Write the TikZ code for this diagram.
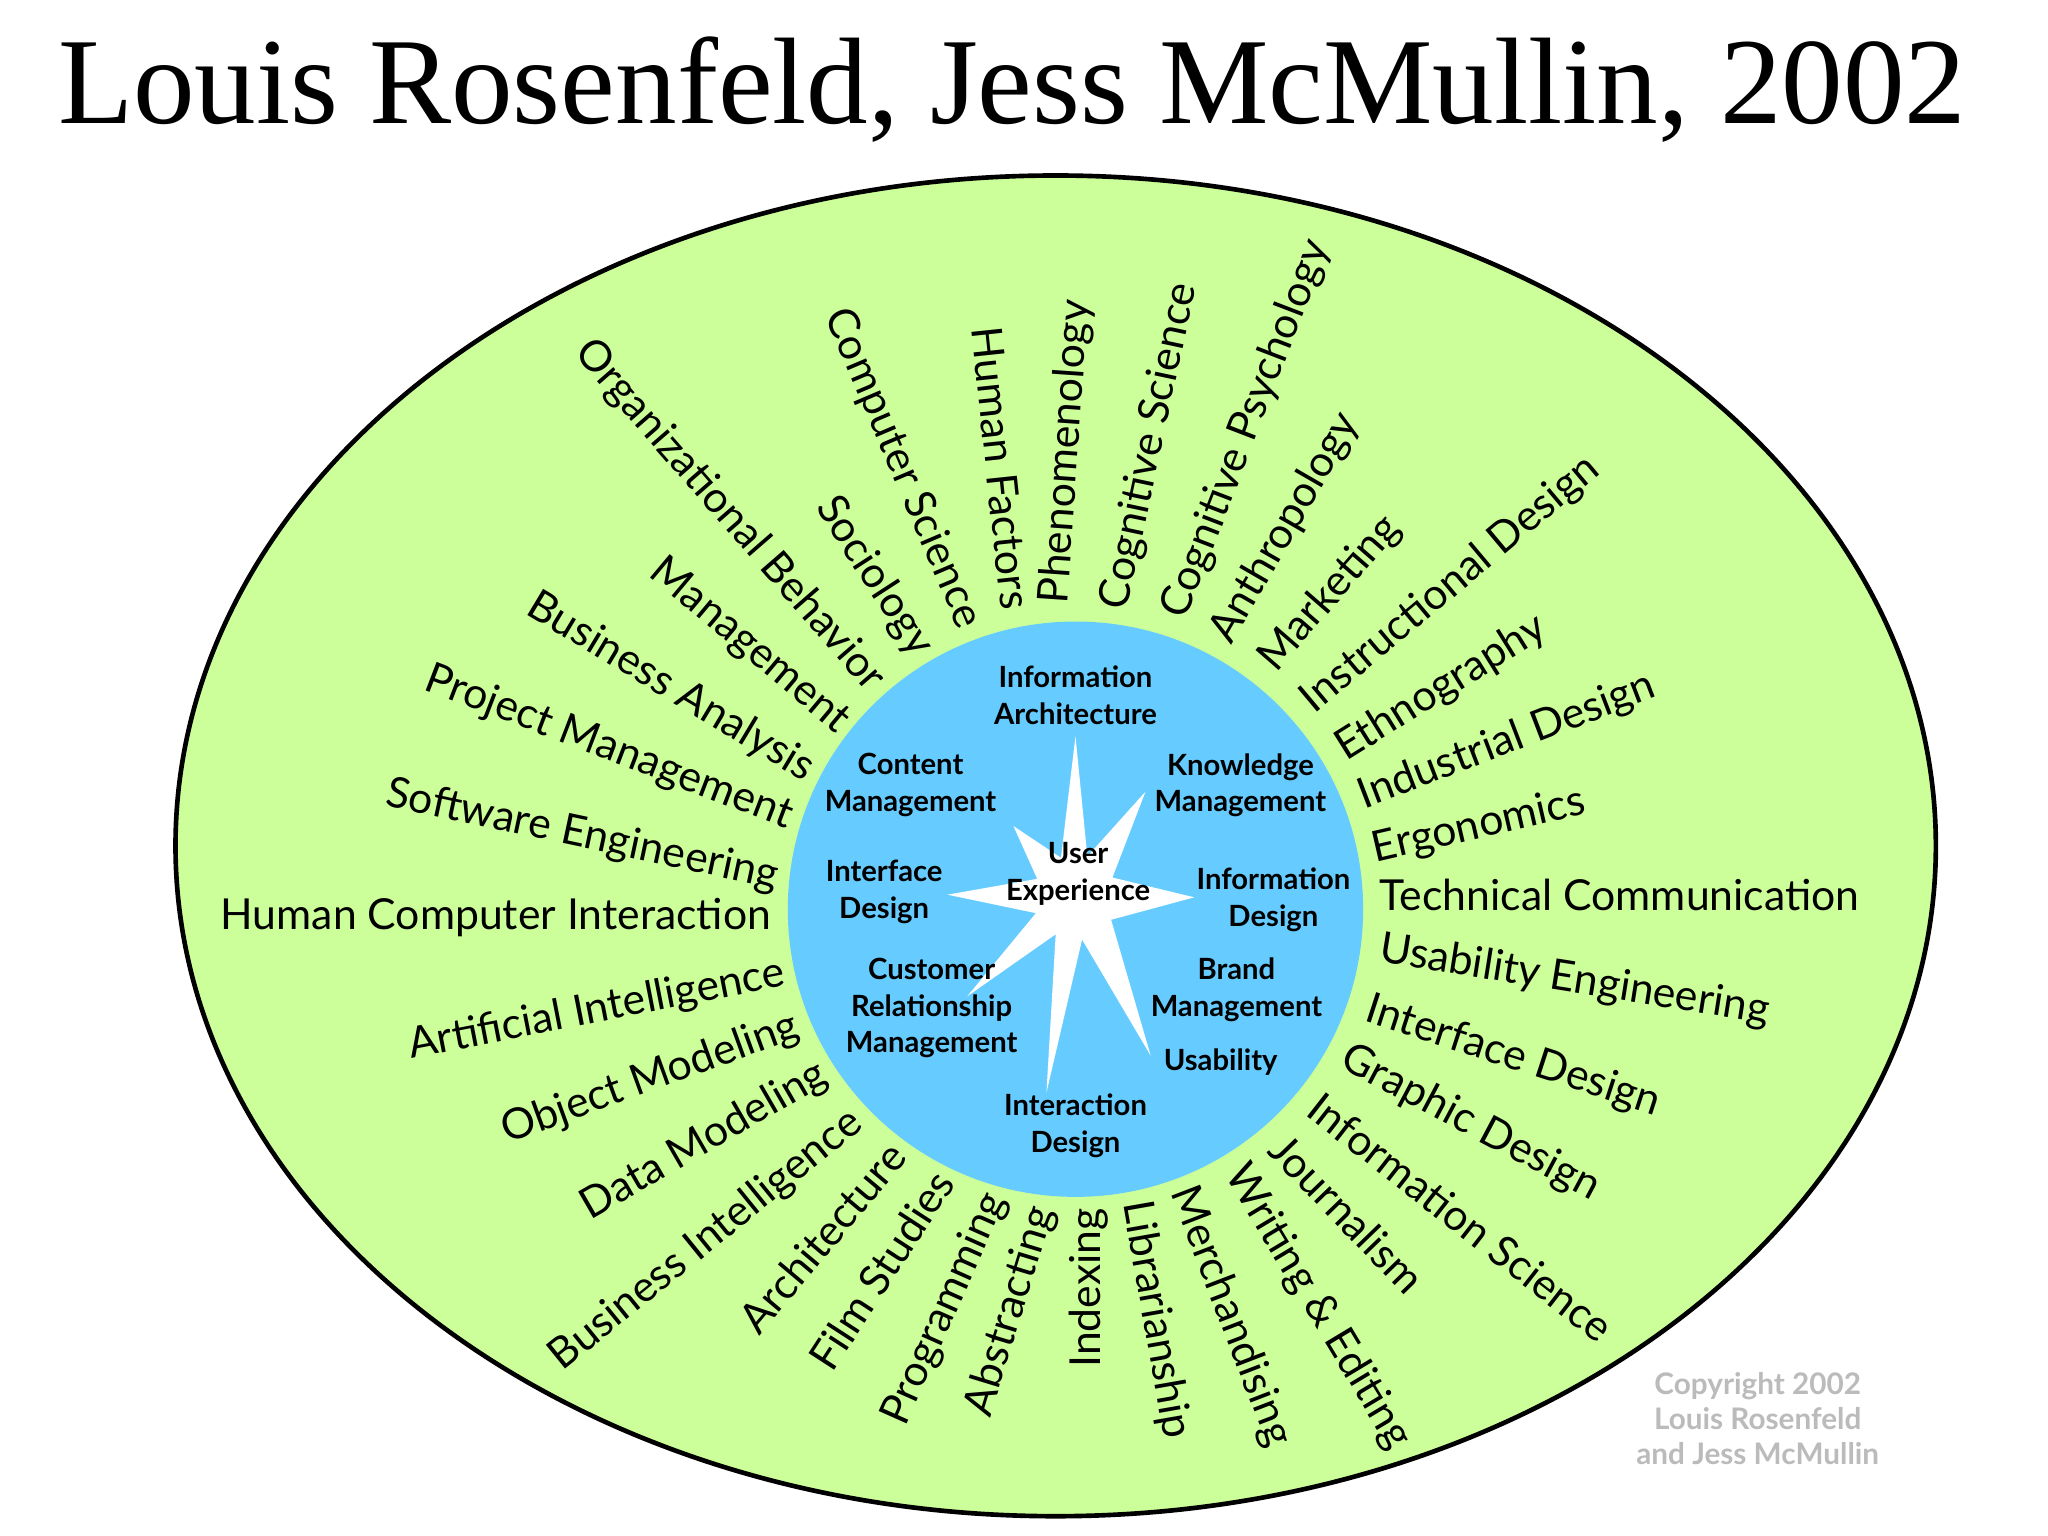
\documentclass[tikz,border=0pt]{standalone}
\usepackage{fontspec}
\setmainfont{Liberation Serif}
\newfontfamily\lab{Lato}
\definecolor{ellgreen}{HTML}{CCFF99}
\definecolor{inblue}{HTML}{66CCFF}
\definecolor{cpgray}{HTML}{BBBBBB}
\tikzset{
 outl/.style={font=\lab\fontsize{9.2}{11}\selectfont,inner sep=0pt},
 rl/.style={outl,anchor=west,rotate=#1},
 ll/.style={outl,anchor=east,rotate=#1},
 inl/.style={font=\lab\bfseries\fontsize{6.3}{7.9}\selectfont,align=center,inner sep=0pt},
}
\begin{document}
\begin{tikzpicture}[x=0.01cm,y=-0.01cm]
\path[use as bounding box,fill=white] (0,0) rectangle (1552,1164);
\node[inner sep=0pt] (title) at (767,68) {\resizebox{14.45cm}{!}{Louis Rosenfeld, Jess McMullin, 2002}};
\draw[fill=ellgreen,line width=1pt] (800,641) ellipse [x radius=667, y radius=508];
\fill[inblue] (815,689) circle [radius=218];
\fill[white] (815,558)--(824,649)--(868,600)--(843,665)--(905,680)--(842,697)--(872,800)--(820,712)--(793,828)--(800,708)--(733,755)--(785,692)--(718,678)--(786,666)--(768,626)--(804,650)--cycle;
% inner labels
\node[inl] (ia) at (815,527) {Information\\Architecture};
\node[inl] (cm) at (690,595) {Content\\Management};
\node[inl] (km) at (940,595) {Knowledge\\Management};
\node[inl] (ifd) at (670,676) {Interface\\Design};
\node[inl] (ux) at (817,662) {User\\Experience};
\node[inl] (infd) at (965,682) {Information\\Design};
\node[inl] (crm) at (706,764) {Customer\\Relationship\\Management};
\node[inl] (bm) at (937,750) {Brand\\Management};
\node[inl] (us) at (925,805) {Usability};
\node[inl] (ixd) at (815,853) {Interaction\\Design};
% right side
\node[rl=86] (l1) at (800,458) {Phenomenology};
\node[rl=78] (l2) at (845,462) {Cognitive Science};
\node[rl=69] (l3) at (890,468) {Cognitive Psychology};
\node[rl=60] (l4) at (925,485) {Anthropology};
\node[rl=49] (l5) at (960,505) {Marketing};
\node[rl=40] (l6) at (990,535) {Instructional Design};
\node[rl=32] (l7) at (1015,570) {Ethnography};
\node[rl=21] (l8) at (1030,605) {Industrial Design};
\node[rl=13] (l9) at (1040,645) {Ergonomics};
\node[rl=0] (l10) at (1045,678) {Technical Communication};
\node[rl=-9] (l11) at (1045,720) {Usability Engineering};
\node[rl=-18] (l12) at (1035,765) {Interface Design};
\node[rl=-28] (l13) at (1018,800) {Graphic Design};
\node[rl=-38] (l14) at (995,835) {Information Science};
\node[rl=-46] (l15) at (968,865) {Journalism};
\node[rl=-59] (l16) at (935,885) {Writing \& Editing};
\node[rl=-69] (l17) at (895,900) {Merchandising};
\node[rl=-80] (l18) at (860,910) {Librarianship};
% left side
\node[ll=-84] (m1) at (770,462) {Human Factors};
\node[ll=-67] (m2) at (735,475) {Computer Science};
\node[ll=-57] (m3) at (700,495) {Sociology};
\node[ll=-49] (m4) at (665,520) {Organizational Behavior};
\node[ll=-40] (m5) at (640,550) {Management};
\node[ll=-31] (m6) at (615,585) {Business Analysis};
\node[ll=-21] (m7) at (600,620) {Project Management};
\node[ll=-12] (m8) at (590,665) {Software Engineering};
\node[ll=0] (m9) at (585,695) {Human Computer Interaction};
\node[ll=11] (m10) at (595,738) {Artificial Intelligence};
\node[ll=20] (m11) at (605,777) {Object Modeling};
\node[ll=30] (m12) at (625,812) {Data Modeling};
\node[ll=39] (m13) at (650,847) {Business Intelligence};
\node[ll=50] (m14) at (680,870) {Architecture};
\node[ll=57] (m15) at (715,890) {Film Studies};
\node[ll=66] (m16) at (755,905) {Programming};
\node[ll=73] (m17) at (790,915) {Abstracting};
\node[ll=90] (m18) at (825,915) {Indexing};
\node[font=\lab\bfseries\fontsize{6.4}{7.6}\selectfont,text=cpgray,align=center] (copy) at (1332,1075) {Copyright 2002\\Louis Rosenfeld\\and Jess McMullin};
\end{tikzpicture}
\end{document}
